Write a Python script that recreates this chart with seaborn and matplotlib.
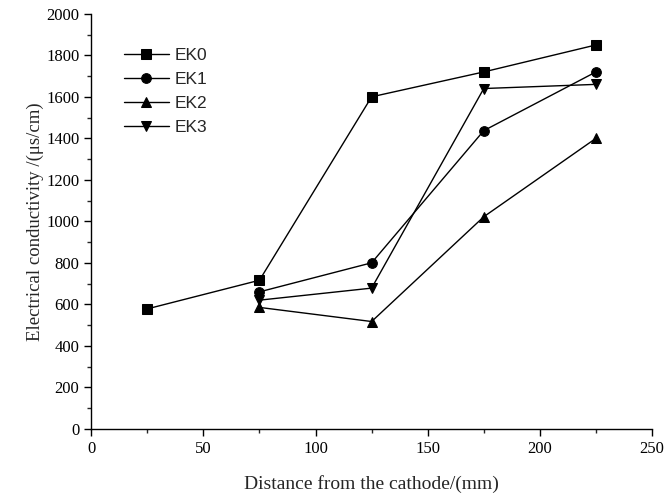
import pandas as pd
import seaborn as sns
import matplotlib.pyplot as plt
from matplotlib.ticker import MultipleLocator

# Values
ek0_x = [25, 75, 125, 175, 225]
ek0_y = [578, 716, 1600, 1720, 1850]
ek1_x = [75, 125, 175, 225]
ek1_y = [660, 800, 1437, 1720]
ek2_x = [75, 125, 175, 225]
ek2_y = [585, 517, 1022, 1400]
ek3_x = [75, 125, 175, 225]
ek3_y = [620, 678, 1640, 1660]

frames = []
for name, xs, ys in [('EK0', ek0_x, ek0_y), ('EK1', ek1_x, ek1_y),
                     ('EK2', ek2_x, ek2_y), ('EK3', ek3_x, ek3_y)]:
    frames.append(pd.DataFrame({'distance': xs, 'ec': ys, 'series': name}))
df = pd.concat(frames, ignore_index=True)

sns.set_style('ticks')
plt.rcParams['font.family'] = ['Liberation Serif', 'DejaVu Serif']

fig = plt.figure(figsize=(6.66, 4.94), dpi=100)
ax = fig.add_axes([0.137, 0.132, 0.842, 0.840])

sns.lineplot(data=df, x='distance', y='ec', style='series',
             markers={'EK0': 's', 'EK1': 'o', 'EK2': '^', 'EK3': 'v'},
             dashes=False, color='black', markersize=7, linewidth=1,
             markeredgecolor='black', ax=ax, sort=False)

ax.set_xlim(0, 250)
ax.set_ylim(0, 2000)
ax.xaxis.set_major_locator(MultipleLocator(50))
ax.xaxis.set_minor_locator(MultipleLocator(25))
ax.yaxis.set_major_locator(MultipleLocator(200))
ax.yaxis.set_minor_locator(MultipleLocator(100))
ax.tick_params(which='major', direction='out', length=5, width=1, labelsize=12, colors='black')
ax.tick_params(which='minor', direction='out', length=3, width=1)
for s in ['left', 'bottom']:
    ax.spines[s].set_linewidth(1)
    ax.spines[s].set_color('black')
sns.despine(ax=ax)

ax.set_xlabel('Distance from the cathode/(mm)', fontsize=14, labelpad=13)
ax.set_ylabel('Electrical conductivity /(\u03bcs/cm)', fontsize=13.5, labelpad=2)
ax.yaxis.set_label_coords(-0.085, 0.5)

leg = ax.legend(loc='upper left', bbox_to_anchor=(0.03, 0.955), frameon=False,
                prop={'family': 'Liberation Sans', 'size': 12.5},
                handlelength=2.6, handletextpad=0.35, labelspacing=0.5, title=None)

plt.savefig('out.png', dpi=100)
